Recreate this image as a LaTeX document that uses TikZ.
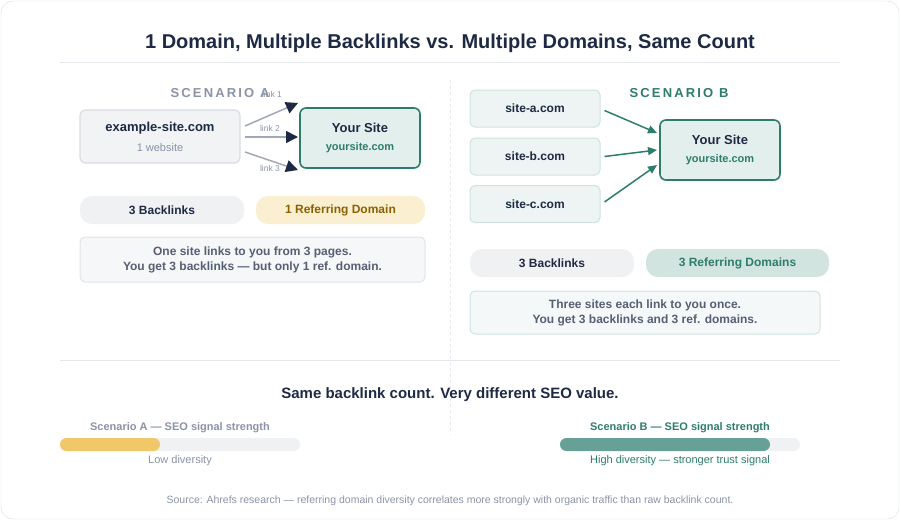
\documentclass[tikz,border=0pt]{standalone}
\usepackage{fontspec}
\setmainfont{Liberation Sans}
\usetikzlibrary{arrows.meta,positioning,calc}
\definecolor{navy}{HTML}{1E2A44}
\definecolor{mutedgray}{HTML}{8A94A6}
\definecolor{teal}{HTML}{2E7D6B}
\definecolor{boxgray}{HTML}{F1F3F5}
\definecolor{linegray}{HTML}{D8DCE2}
\definecolor{tealfill}{HTML}{E3EFED}
\definecolor{sitefill}{HTML}{EEF4F3}
\definecolor{siteline}{HTML}{CFE3DE}
\definecolor{amberfill}{HTML}{FBEFD2}
\definecolor{ambertext}{HTML}{8A6100}
\definecolor{amberbar}{HTML}{F0C869}
\definecolor{tealbar}{HTML}{66A096}
\definecolor{trackgray}{HTML}{F0F1F3}
\tikzset{
  srcbox/.style={draw=linegray,fill=boxgray,rounded corners=6pt,line width=1.2pt},
  sitebox/.style={draw=siteline,fill=sitefill,rounded corners=5pt,line width=1pt,minimum width=130pt,minimum height=37pt,font=\fontsize{12}{14}\selectfont\bfseries,text=navy},
  yourbox/.style={draw=teal,fill=tealfill,rounded corners=6pt,line width=1.6pt},
  pill/.style={rounded corners=12pt,minimum height=28pt,font=\fontsize{12}{14}\selectfont\bfseries},
  notebox/.style={draw=linegray!80,fill=boxgray!70,rounded corners=5pt,line width=1pt},
  linkA/.style={draw=mutedgray!80,line width=1.5pt,-{Triangle[length=12pt,width=12pt,fill=navy,color=navy]}},
  linkB/.style={draw=teal,line width=1.5pt,-{Triangle[length=9pt,width=8pt]}},
  small/.style={font=\fontsize{8.5}{9}\selectfont,text=mutedgray}
}
\begin{document}
\begin{tikzpicture}[x=1pt,y=-1pt]
\useasboundingbox (0,0) rectangle (900,520);
\draw[linegray,rounded corners=12pt,fill=white] (1,1) rectangle (899,519);
\node[font=\fontsize{20}{24}\selectfont\bfseries,text=navy] (title) at (450,43) {1 Domain, Multiple Backlinks vs. Multiple Domains, Same Count};
\draw[linegray!70,line width=1pt] (60,62) -- (840,62);
\draw[linegray!70,dashed,line width=1pt] (450,80) -- (450,435);
% scenario A
\node[font=\fontsize{13}{15}\selectfont\bfseries,text=mutedgray] (headA) at (220,93) {S\,C\,E\,N\,A\,R\,I\,O\, A};
\draw[srcbox] (80,110) rectangle (240,163);
\node[font=\fontsize{13}{15}\selectfont\bfseries,text=navy] (srcname) at (160,128) {example-site.com};
\node[font=\fontsize{11}{13}\selectfont,text=mutedgray] (srcsub) at (160,148) {1 website};
\draw[yourbox] (300,108) rectangle (420,168);
\node[font=\fontsize{13}{15}\selectfont\bfseries,text=navy] (youA) at (360,128) {Your Site};
\node[font=\fontsize{11}{13}\selectfont\bfseries,text=teal] (youAurl) at (360,148) {yoursite.com};
\coordinate (a1) at (245,126); \coordinate (b1) at (298,103);
\coordinate (a2) at (245,137); \coordinate (b2) at (298,137);
\coordinate (a3) at (245,152); \coordinate (b3) at (298,170);
\foreach \i in {1,2,3} \draw[linkA] (a\i) -- (b\i);
\node[small] (l1) at (272,94) {link 1};
\node[small] (l2) at (270,128) {link 2};
\node[small] (l3) at (270,168) {link 3};
\node[pill,fill=trackgray,minimum width=164pt,text=navy] (blA) at (162,210) {3 Backlinks};
\node[pill,fill=amberfill,minimum width=169pt,text=ambertext] (rdA) at (340.5,210) {1 Referring Domain};
\draw[notebox] (80,237) rectangle (425,282);
\node[font=\fontsize{12}{14}\selectfont\bfseries,text=navy!75,align=center] (noteA) at (252.5,260) {One site links to you from 3 pages.\\[1pt]You get 3 backlinks — but only 1 ref. domain.};
% scenario B
\node[font=\fontsize{13}{15}\selectfont\bfseries,text=teal] (headB) at (679,93) {S\,C\,E\,N\,A\,R\,I\,O\, B};
\node[sitebox] (sa) at (535,108.5) {site-a.com};
\node[sitebox] (sb) at (535,156.5) {site-b.com};
\node[sitebox] (sc) at (535,204) {site-c.com};
\draw[yourbox] (660,120) rectangle (780,180);
\node[font=\fontsize{13}{15}\selectfont\bfseries,text=navy] (youBname) at (720,140) {Your Site};
\node[font=\fontsize{11}{13}\selectfont\bfseries,text=teal] (youBurl) at (720,160) {yoursite.com};
\draw[linkB] (sa.east) ++(4,2) -- (657,133);
\draw[linkB] (sb.east) ++(4,0) -- (657,150);
\draw[linkB] (sc.east) ++(4,-2) -- (657,165);
\node[pill,fill=trackgray,minimum width=164pt,text=navy] (blB) at (552,263) {3 Backlinks};
\node[pill,fill=tealfill!90!teal,minimum width=183pt,text=teal] (rdB) at (737.5,263) {3 Referring Domains};
\draw[notebox,draw=siteline,fill=sitefill!60] (470,291) rectangle (820,334);
\node[font=\fontsize{12}{14}\selectfont\bfseries,text=navy!75,align=center] (noteB) at (645,313) {Three sites each link to you once.\\[1pt]You get 3 backlinks and 3 ref. domains.};
% bottom
\draw[linegray!70,line width=1pt] (60,360) -- (840,360);
\node[font=\fontsize{15}{17}\selectfont\bfseries,text=navy] (verdict) at (450,395) {Same backlink count. Very different SEO value.};
\node[font=\fontsize{11}{13}\selectfont\bfseries,text=mutedgray] (barAlbl) at (180,428) {Scenario A — SEO signal strength};
\fill[trackgray,rounded corners=6.5pt] (60,438) rectangle (300,451);
\fill[amberbar,rounded corners=6.5pt] (60,438) rectangle (160,451);
\node[font=\fontsize{11}{13}\selectfont,text=mutedgray] (barAnote) at (180,461) {Low diversity};
\node[font=\fontsize{11}{13}\selectfont\bfseries,text=teal] (barBlbl) at (680,428) {Scenario B — SEO signal strength};
\fill[trackgray,rounded corners=6.5pt] (560,438) rectangle (800,451);
\fill[tealbar,rounded corners=6.5pt] (560,438) rectangle (770,451);
\node[font=\fontsize{11}{13}\selectfont,text=teal] (barBnote) at (680,461) {High diversity — stronger trust signal};
\node[font=\fontsize{10.5}{12}\selectfont,text=mutedgray] (source) at (450,501) {Source: Ahrefs research — referring domain diversity correlates more strongly with organic traffic than raw backlink count.};
\end{tikzpicture}
\end{document}
